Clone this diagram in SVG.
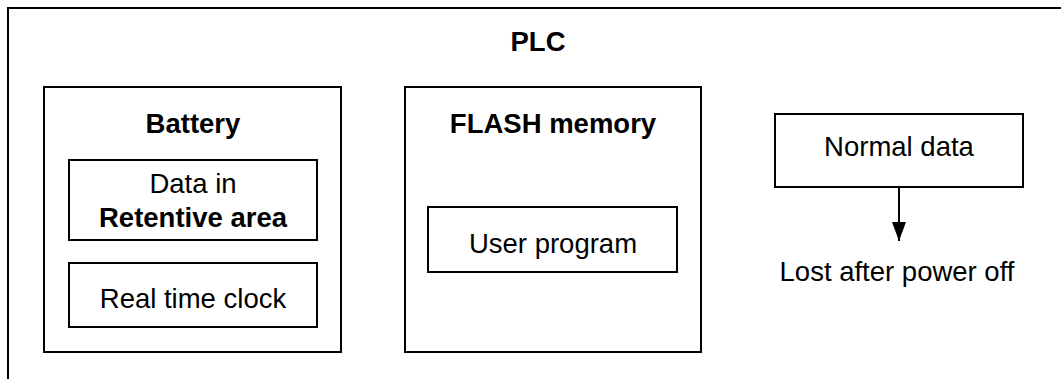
<svg xmlns="http://www.w3.org/2000/svg" width="1061" height="379" viewBox="0 0 1061 379">
<defs>
<style>
.box{fill:#fff;stroke:#000;stroke-width:2}
.t{font-family:"Liberation Sans",Arial,sans-serif;font-size:27.5px;fill:#000;text-anchor:middle}
.b{font-weight:bold}
.c{stroke:#000;stroke-width:2;fill:none}
</style>
<marker id="ah" markerUnits="userSpaceOnUse" markerWidth="20" markerHeight="14" refX="19" refY="7" orient="auto" viewBox="0 0 20 14"><path d="M0,0 L19,7 L0,14 Z" fill="#000"/></marker>
</defs>
<rect width="1061" height="379" fill="#fff"/>
<g id="plc">
<path class="c" d="M8,379 V8 H1061"/>
<text class="t b" x="538" y="51">PLC</text>
</g>
<g id="battery">
<rect class="box" x="44" y="87" width="297" height="265"/>
<text class="t b" x="193" y="133">Battery</text>
</g>
<g id="retentive">
<rect class="box" x="69" y="160" width="248" height="80"/>
<text class="t" x="193" y="193">Data in</text>
<text class="t b" x="193" y="227">Retentive area</text>
</g>
<g id="rtc">
<rect class="box" x="69" y="263" width="248" height="64"/>
<text class="t" x="193" y="308">Real time clock</text>
</g>
<g id="flash">
<rect class="box" x="405" y="87" width="296" height="265"/>
<text class="t b" x="553" y="133">FLASH memory</text>
</g>
<g id="userprog">
<rect class="box" x="428" y="207" width="249" height="65"/>
<text class="t" x="553" y="253">User program</text>
</g>
<g id="normal">
<rect class="box" x="775" y="114" width="248" height="73"/>
<text class="t" x="899" y="156">Normal data</text>
</g>
<g id="lost">
<text class="t" x="897" y="281">Lost after power off</text>
</g>
<g id="connectors">
<path class="c" d="M899,187 V241" marker-end="url(#ah)"/>
</g>
</svg>
